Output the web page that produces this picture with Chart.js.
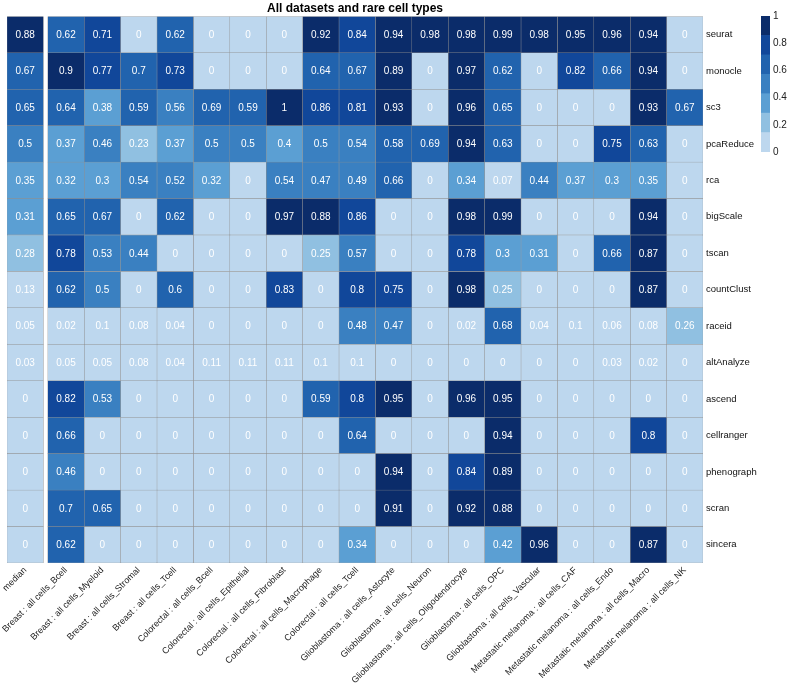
<!DOCTYPE html>
<html>
<head>
<meta charset="utf-8">
<script src="https://cdn.jsdelivr.net/npm/chart.js@4/dist/chart.umd.min.js"></script>
<style>
    body { margin: 0; background: #fff; }
    #wrap { position: relative; width: 787px; height: 686px; }
    #main { position: absolute; left: 0; top: 0; width: 787px; height: 686px; }
    #bar { position: absolute; left: 755px; top: 0; width: 32px; height: 168px; }
</style>
</head>
<body>
<div id="wrap">
    <div id="main"><canvas id="Heat_Map"></canvas></div>
    <div id="bar"><canvas id="Color_Bar"></canvas></div>
</div>
<script>
// columns (datasets / cell types), first one is the median
const columns = [
    'median',
    'Breast : all cells_Bcell', 'Breast : all cells_Myeloid', 'Breast : all cells_Stromal', 'Breast : all cells_Tcell',
    'Colorectal : all cells_Bcell', 'Colorectal : all cells_Epithelial', 'Colorectal : all cells_Fibroblast',
    'Colorectal : all cells_Macrophage', 'Colorectal : all cells_Tcell',
    'Glioblastoma : all cells_Astocyte', 'Glioblastoma : all cells_Neuron', 'Glioblastoma : all cells_Oligodendrocyte',
    'Glioblastoma : all cells_OPC', 'Glioblastoma : all cells_Vascular',
    'Metastatic melanoma : all cells_CAF', 'Metastatic melanoma : all cells_Endo',
    'Metastatic melanoma : all cells_Macro', 'Metastatic melanoma : all cells_NK'
];

const methods = ['seurat', 'monocle', 'sc3', 'pcaReduce', 'rca', 'bigScale', 'tscan', 'countClust',
    'raceid', 'altAnalyze', 'ascend', 'cellranger', 'phenograph', 'scran', 'sincera'];

// one row of scores per method, same order as columns
const seurat     = [0.88, 0.62, 0.71, 0, 0.62, 0, 0, 0, 0.92, 0.84, 0.94, 0.98, 0.98, 0.99, 0.98, 0.95, 0.96, 0.94, 0];
const monocle    = [0.67, 0.9, 0.77, 0.7, 0.73, 0, 0, 0, 0.64, 0.67, 0.89, 0, 0.97, 0.62, 0, 0.82, 0.66, 0.94, 0];
const sc3        = [0.65, 0.64, 0.38, 0.59, 0.56, 0.69, 0.59, 1, 0.86, 0.81, 0.93, 0, 0.96, 0.65, 0, 0, 0, 0.93, 0.67];
const pcaReduce  = [0.5, 0.37, 0.46, 0.23, 0.37, 0.5, 0.5, 0.4, 0.5, 0.54, 0.58, 0.69, 0.94, 0.63, 0, 0, 0.75, 0.63, 0];
const rca        = [0.35, 0.32, 0.3, 0.54, 0.52, 0.32, 0, 0.54, 0.47, 0.49, 0.66, 0, 0.34, 0.07, 0.44, 0.37, 0.3, 0.35, 0];
const bigScale   = [0.31, 0.65, 0.67, 0, 0.62, 0, 0, 0.97, 0.88, 0.86, 0, 0, 0.98, 0.99, 0, 0, 0, 0.94, 0];
const tscan      = [0.28, 0.78, 0.53, 0.44, 0, 0, 0, 0, 0.25, 0.57, 0, 0, 0.78, 0.3, 0.31, 0, 0.66, 0.87, 0];
const countClust = [0.13, 0.62, 0.5, 0, 0.6, 0, 0, 0.83, 0, 0.8, 0.75, 0, 0.98, 0.25, 0, 0, 0, 0.87, 0];
const raceid     = [0.05, 0.02, 0.1, 0.08, 0.04, 0, 0, 0, 0, 0.48, 0.47, 0, 0.02, 0.68, 0.04, 0.1, 0.06, 0.08, 0.26];
const altAnalyze = [0.03, 0.05, 0.05, 0.08, 0.04, 0.11, 0.11, 0.11, 0.1, 0.1, 0, 0, 0, 0, 0, 0, 0.03, 0.02, 0];
const ascend     = [0, 0.82, 0.53, 0, 0, 0, 0, 0, 0.59, 0.8, 0.95, 0, 0.96, 0.95, 0, 0, 0, 0, 0];
const cellranger = [0, 0.66, 0, 0, 0, 0, 0, 0, 0, 0.64, 0, 0, 0, 0.94, 0, 0, 0, 0.8, 0];
const phenograph = [0, 0.46, 0, 0, 0, 0, 0, 0, 0, 0, 0.94, 0, 0.84, 0.89, 0, 0, 0, 0, 0];
const scran      = [0, 0.7, 0.65, 0, 0, 0, 0, 0, 0, 0, 0.91, 0, 0.92, 0.88, 0, 0, 0, 0, 0];
const sincera    = [0, 0.62, 0, 0, 0, 0, 0, 0, 0, 0.34, 0, 0, 0, 0.42, 0.96, 0, 0, 0.87, 0];

const rows = [seurat, monocle, sc3, pcaReduce, rca, bigScale, tscan, countClust,
    raceid, altAnalyze, ascend, cellranger, phenograph, scran, sincera];

// colour bins
const palette = ['#bdd7ee', '#90c0e1', '#5b9fd3', '#3a80c1', '#2163ae', '#11479a', '#0b2c6a'];
const breaks = [1 / 7, 2 / 7, 3 / 7, 4 / 7, 0.705, 0.865];
const barTicks = [0, 0.2, 0.4, 0.6, 0.8, 1];

const GAP = 0.12; // white gap after the median column

function colourFor(v) {
    let i = 0;
    while (i < breaks.length && v >= breaks[i]) i++;
    return palette[i];
}

function colStart(c) {
    return c === 0 ? 0 : c + GAP;
}

Chart.defaults.font.family = '"Liberation Sans", Arial, Helvetica, sans-serif';
Chart.defaults.animation = false;

const datasets = columns.map((name, c) => ({
    label: name,
    data: rows.map(r => [colStart(c), colStart(c) + 1]),
    values: rows.map(r => r[c]),
    backgroundColor: rows.map(r => colourFor(r[c])),
    borderColor: '#909090',
    borderWidth: 0.5,
    borderSkipped: false,
    grouped: false,
    barPercentage: 1,
    categoryPercentage: 1
}));

// write the score in each cell
const cellText = {
    id: 'cellText',
    afterDatasetsDraw(chart) {
        const ctx = chart.ctx;
        ctx.save();
        ctx.fillStyle = '#ffffff';
        ctx.font = '10px "Liberation Sans", Arial, sans-serif';
        ctx.textAlign = 'center';
        ctx.textBaseline = 'middle';
        chart.data.datasets.forEach((ds, i) => {
            chart.getDatasetMeta(i).data.forEach((bar, j) => {
                const v = ds.values[j];
                ctx.fillText(String(v), (bar.x + bar.base) / 2, bar.y + 0.5);
            });
        });
        ctx.restore();
    }
};

const centers = columns.map((n, c) => colStart(c) + 0.5);

new Chart(document.getElementById('Heat_Map').getContext('2d'), {
    type: 'bar',
    data: { labels: methods, datasets: datasets },
    options: {
        indexAxis: 'y',
        responsive: true,
        maintainAspectRatio: false,
        layout: { padding: { left: 7, right: 0, top: 0, bottom: 0 } },
        plugins: {
            legend: { display: false },
            tooltip: { enabled: false },
            title: {
                display: true,
                fullSize: false,
                text: 'All datasets and rare cell types',
                color: '#000',
                font: { size: 12, weight: 'bold' },
                padding: { top: 1, bottom: 1 }
            }
        },
        scales: {
            x: {
                type: 'linear',
                min: 0,
                max: columns.length + GAP,
                grid: { display: false, drawTicks: false },
                border: { display: false },
                afterBuildTicks: scale => {
                    scale.ticks = centers.map(v => ({ value: v }));
                },
                afterFit: scale => {
                    scale.height = 123;
                    scale.paddingLeft = 0;
                    scale.paddingRight = 0;
                },
                ticks: {
                    autoSkip: false,
                    minRotation: 45,
                    maxRotation: 45,
                    padding: 2,
                    color: '#222',
                    font: { size: 9 },
                    callback: (value, index) => columns[index]
                }
            },
            y: {
                position: 'right',
                grid: { display: false, drawTicks: false },
                border: { display: false },
                afterFit: scale => {
                    scale.width = 84;
                    scale.paddingTop = 0;
                    scale.paddingBottom = 0;
                },
                ticks: {
                    padding: 3,
                    color: '#111',
                    font: { size: 9.5 }
                }
            }
        }
    },
    plugins: [cellText]
});

// colour key
new Chart(document.getElementById('Color_Bar').getContext('2d'), {
    type: 'bar',
    data: {
        labels: [''],
        datasets: palette.map((col, k) => ({
            data: [[k / 7, (k + 1) / 7]],
            backgroundColor: col,
            borderWidth: 0,
            grouped: false,
            barPercentage: 1,
            categoryPercentage: 1
        }))
    },
    options: {
        responsive: true,
        maintainAspectRatio: false,
        layout: { padding: { left: 6, right: 0, top: 16, bottom: 16 } },
        plugins: { legend: { display: false }, tooltip: { enabled: false } },
        scales: {
            x: { display: false },
            y: {
                position: 'right',
                min: 0,
                max: 1,
                grid: { display: false, drawTicks: false },
                border: { display: false },
                afterBuildTicks: scale => {
                    scale.ticks = barTicks.map(v => ({ value: v }));
                },
                afterFit: scale => {
                    scale.width = 17;
                    scale.paddingTop = 0;
                    scale.paddingBottom = 0;
                },
                ticks: {
                    padding: 3,
                    color: '#222',
                    font: { size: 10 },
                    callback: v => String(+v.toFixed(1))
                }
            }
        }
    }
});
</script>
</body>
</html>
